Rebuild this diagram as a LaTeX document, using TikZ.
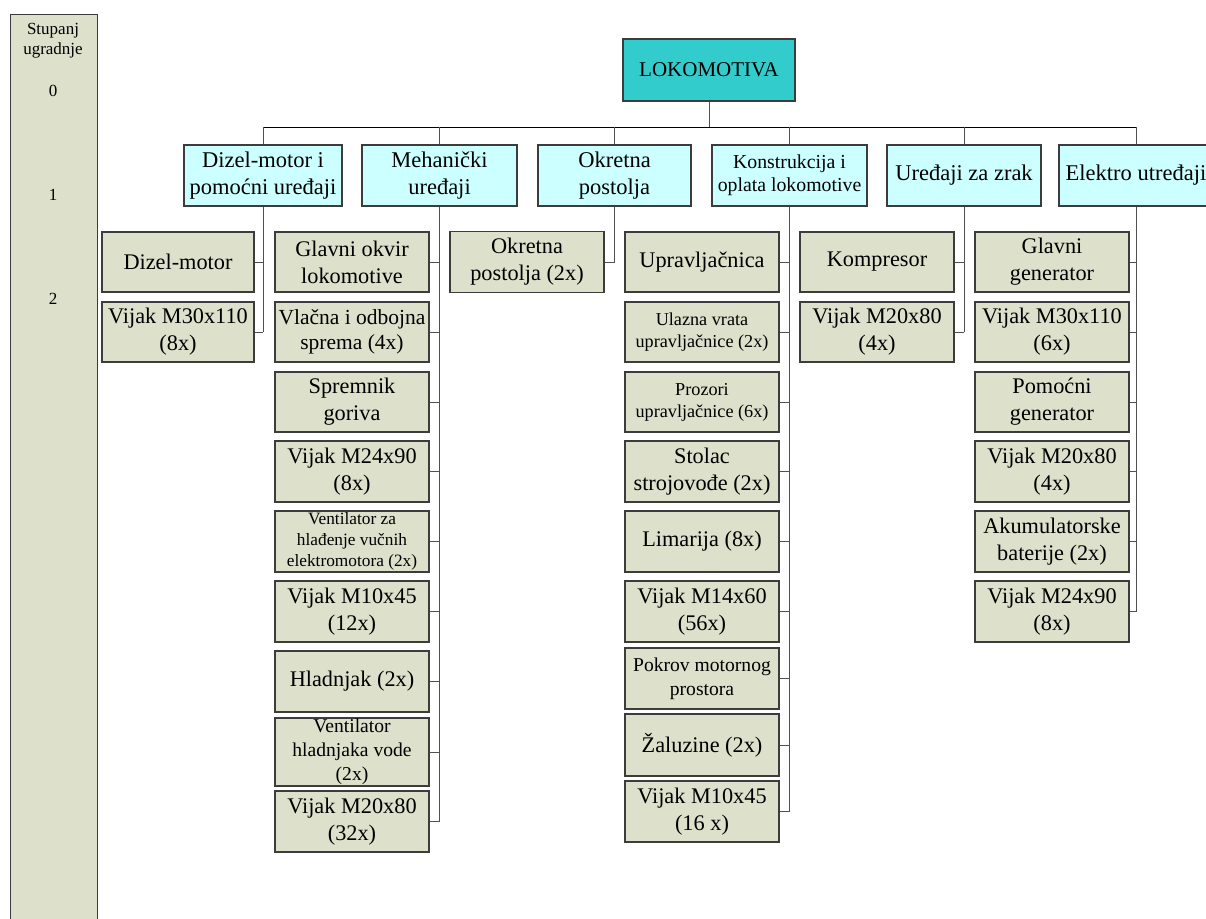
\documentclass[tikz,border=0pt]{standalone}
\usepackage{fontspec}
\setmainfont{Liberation Serif}
\definecolor{khaki}{HTML}{DDE0CB}
\definecolor{lcyan}{HTML}{CCFFFF}
\definecolor{teal2}{HTML}{33CCCC}
\definecolor{edge}{HTML}{3C3C3C}
\definecolor{conncol}{HTML}{505050}
\tikzset{
  box/.style={draw=edge, line width=1.2pt, inner sep=0pt, align=center, minimum width=154pt, minimum height=60pt},
  lvtwo/.style={box, fill=khaki, font=\fontsize{22.3}{27}\selectfont},
  lvone/.style={box, fill=lcyan, minimum height=61pt, font=\fontsize{22.5}{27}\selectfont},
  fmed/.style={font=\fontsize{19.6}{24}\selectfont},
  fsml/.style={font=\fontsize{18.2}{22}\selectfont},
  ftiny/.style={font=\fontsize{17.3}{21}\selectfont},
  conn/.style={draw=conncol, line width=1pt},
  bus/.style={draw=black, line width=1pt},
  scaletxt/.style={font=\fontsize{17}{21}\selectfont, anchor=base},
}
\begin{document}
\begin{tikzpicture}[x=1pt,y=-1pt]
\useasboundingbox (0,0) rectangle (1206,918);
% left scale column
\node[draw=edge, line width=1.2pt, fill=khaki, inner sep=0pt, minimum width=87pt, minimum height=930pt, anchor=north west] (scale) at (10,14) {};
\node[scaletxt] (st1) at (53,34) {Stupanj};
\node[scaletxt] (st2) at (53,54) {ugradnje};
\node[scaletxt] (s0) at (53,96) {0};
\node[scaletxt] (s1) at (53,200) {1};
\node[scaletxt] (s2) at (53,304) {2};

% root
\node[box, fill=teal2, minimum width=172pt, minimum height=62pt, font=\fontsize{21}{25}\selectfont] (root) at (709,70) {LOKOMOTIVA};

% level 1
\node[lvone, minimum width=158pt] (A) at (263,175.5) {Dizel-motor i\\pomoćni uređaji};
\node[lvone, minimum width=155pt] (B) at (439.5,175.5) {Mehanički\\uređaji};
\node[lvone, minimum width=153pt] (C) at (614.5,175.5) {Okretna\\postolja};
\node[lvone, minimum width=155pt, font=\fontsize{19.8}{23}\selectfont] (D) at (789.5,175.5) {Konstrukcija i\\oplata lokomotive};
\node[lvone] (E) at (964,175.5) {Uređaji za zrak};
\node[lvone] (F) at (1136,175.5) {Elektro utređaji};

\coordinate (busy) at (709,127);
\draw[conn] (root.south) -- (root.south |- busy);
\draw[bus] (A.north |- busy) -- (F.north |- busy);
\foreach \n in {A,B,C,D,E,F} { \draw[conn] (\n.north |- busy) -- (\n.north); }

% column A
\node[lvtwo, minimum width=152pt] (A1) at (178,262) {Dizel-motor};
\node[lvtwo, minimum width=152pt] (A2) at (178,332) {Vijak M30x110\\(8x)};

% column B
\node[lvtwo] (B1) at (352,262) {Glavni okvir\\lokomotive};
\node[lvtwo, font=\fontsize{21.5}{25}\selectfont] (B2) at (352,332) {Vlačna i odbojna\\sprema (4x)};
\node[lvtwo] (B3) at (352,402) {Spremnik\\goriva};
\node[lvtwo, minimum height=61pt] (B4) at (352,471.5) {Vijak M24x90\\(8x)};
\node[lvtwo, minimum height=61pt, ftiny] (B5) at (352,541.5) {Ventilator za\\hlađenje vučnih\\elektromotora (2x)};
\node[lvtwo, minimum height=61pt] (B6) at (352,611.5) {Vijak M10x45\\(12x)};
\node[lvtwo, minimum height=61pt] (B7) at (352,681.5) {Hladnjak (2x)};
\node[lvtwo, minimum height=68pt, fmed] (B8) at (352,752) {Ventilator\\hladnjaka vode\\(2x)};
\node[lvtwo, minimum height=61pt] (B9) at (352,821.5) {Vijak M20x80\\(32x)};

% column C
\node[lvtwo, minimum height=61pt] (C1) at (527,262) {Okretna\\postolja (2x)};

% column D
\node[lvtwo] (D1) at (702,262) {Upravljačnica};
\node[lvtwo, fsml] (D2) at (702,332) {Ulazna vrata\\upravljačnice (2x)};
\node[lvtwo, fsml] (D3) at (702,402) {Prozori\\upravljačnice (6x)};
\node[lvtwo, minimum height=61pt] (D4) at (702,471.5) {Stolac\\strojovođe (2x)};
\node[lvtwo, minimum height=61pt] (D5) at (702,541.5) {Limarija (8x)};
\node[lvtwo, minimum height=61pt] (D6) at (702,611.5) {Vijak M14x60\\(56x)};
\node[lvtwo, minimum height=61pt, fmed] (D7) at (702,678.5) {Pokrov motornog\\prostora};
\node[lvtwo, minimum height=62pt] (D8) at (702,745) {Žaluzine (2x)};
\node[lvtwo, minimum height=61pt] (D9) at (702,811.5) {Vijak M10x45\\(16 x)};

% column E
\node[lvtwo] (E1) at (877,262) {Kompresor};
\node[lvtwo] (E2) at (877,332) {Vijak M20x80\\(4x)};

% column F
\node[lvtwo] (F1) at (1052,262) {Glavni\\generator};
\node[lvtwo] (F2) at (1052,332) {Vijak M30x110\\(6x)};
\node[lvtwo] (F3) at (1052,402) {Pomoćni\\generator};
\node[lvtwo, minimum height=61pt] (F4) at (1052,471.5) {Vijak M20x80\\(4x)};
\node[lvtwo, minimum height=61pt] (F5) at (1052,541.5) {Akumulatorske\\baterije (2x)};
\node[lvtwo, minimum height=61pt] (F6) at (1052,611.5) {Vijak M24x90\\(8x)};

% stems
\draw[conn] (A.south) -- (A.south |- A2.east);
\draw[conn] (B.south) -- (B.south |- B9.east);
\draw[conn] (C.south) -- (C.south |- C1.east);
\draw[conn] (D.south) -- (D.south |- D9.east);
\draw[conn] (E.south) -- (E.south |- E2.east);
\draw[conn] (F.south) -- (F.south |- F6.east);
% ticks
\foreach \n in {1,2} { \draw[conn] (A\n.east) -- (A\n.east -| A.south); }
\foreach \n in {1,...,9} { \draw[conn] (B\n.east) -- (B\n.east -| B.south); }
\draw[conn] (C1.east) -- (C1.east -| C.south);
\foreach \n in {1,...,9} { \draw[conn] (D\n.east) -- (D\n.east -| D.south); }
\foreach \n in {1,2} { \draw[conn] (E\n.east) -- (E\n.east -| E.south); }
\foreach \n in {1,...,6} { \draw[conn] (F\n.east) -- (F\n.east -| F.south); }
\end{tikzpicture}
\end{document}
